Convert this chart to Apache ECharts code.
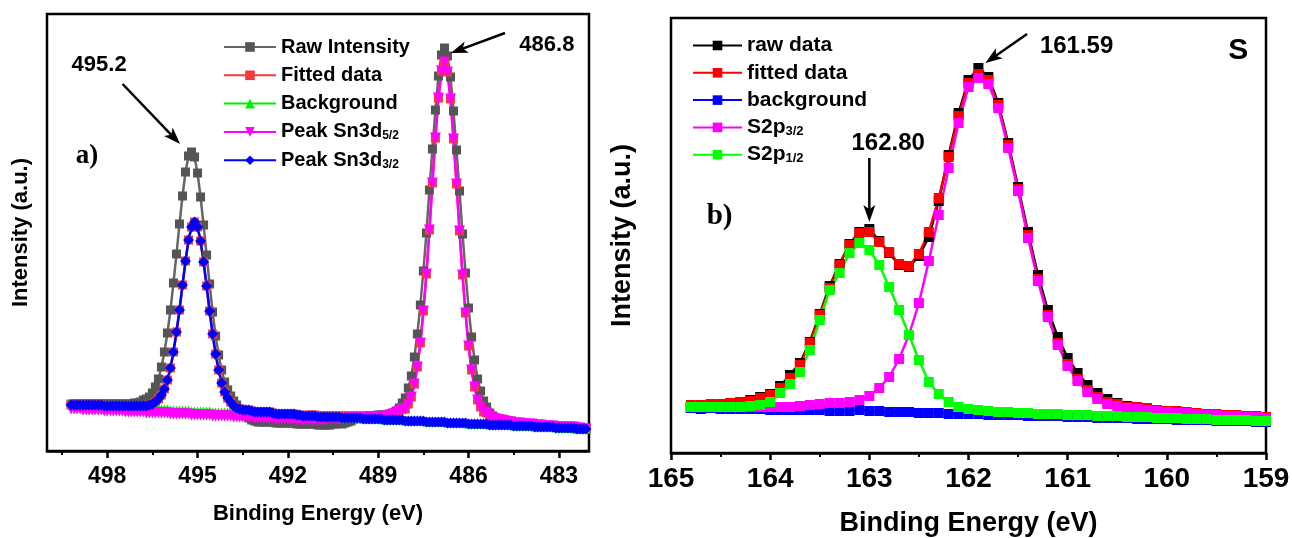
<!DOCTYPE html>
<html>
<head>
<meta charset="utf-8">
<script src="https://cdn.jsdelivr.net/npm/echarts@6/dist/echarts.min.js"></script>
<style>
  html, body { margin: 0; padding: 0; background: #fff; }
  #chart { width: 1292px; height: 538px; }
</style>
</head>
<body>
<div id="chart"></div>
<script>
// ---- panel a) Sn 3d ----
const energyA = [
  499.2,499.1,499.0,498.9,498.8,498.7,498.6,498.5,498.4,498.3,
  498.2,498.1,498.0,497.9,497.8,497.7,497.6,497.5,497.4,497.3,
  497.2,497.1,497.0,496.9,496.8,496.7,496.6,496.5,496.4,496.3,
  496.2,496.1,496.0,495.9,495.8,495.7,495.6,495.5,495.4,495.3,
  495.2,495.1,495.0,494.9,494.8,494.7,494.6,494.5,494.4,494.3,
  494.2,494.1,494.0,493.9,493.8,493.7,493.6,493.5,493.4,493.3,
  493.2,493.1,493.0,492.9,492.8,492.7,492.6,492.5,492.4,492.3,
  492.2,492.1,492.0,491.9,491.8,491.7,491.6,491.5,491.4,491.3,
  491.2,491.1,491.0,490.9,490.8,490.7,490.6,490.5,490.4,490.3,
  490.2,490.1,490.0,489.9,489.8,489.7,489.6,489.5,489.4,489.3,
  489.2,489.1,489.0,488.9,488.8,488.7,488.6,488.5,488.4,488.3,
  488.2,488.1,488.0,487.9,487.8,487.7,487.6,487.5,487.4,487.3,
  487.2,487.1,487.0,486.9,486.8,486.7,486.6,486.5,486.4,486.3,
  486.2,486.1,486.0,485.9,485.8,485.7,485.6,485.5,485.4,485.3,
  485.2,485.1,485.0,484.9,484.8,484.7,484.6,484.5,484.4,484.3,
  484.2,484.1,484.0,483.9,483.8,483.7,483.6,483.5,483.4,483.3,
  483.2,483.1,483.0,482.9,482.8,482.7,482.6,482.5,482.4,482.3,
  482.2,482.1
];
const rawA = [
  47,47,47,47,47,47,47,47,47,47,
  47,47,47,47,47,47,47,47,47,47,
  47,48,48,49,51,52,54,58,64,72,
  84,99,118,141,168,197,227,255,279,295,
  299,294,278,254,226,196,167,139,115,96,
  81,69,61,55,50,46,42,38,35,33,
  31,30,29,29,29,29,29,29,28,28,
  28,28,28,28,28,27,27,27,27,27,
  27,27,26,26,26,26,26,27,27,28,
  27,28,29,30,32,33,34,34,34,35,
  35,35,36,36,36,36,37,38,40,43,
  48,53,63,75,94,117,146,180,218,261,
  302,341,375,396,403,395,374,340,301,260,
  217,178,143,114,91,72,60,50,44,38,
  35,33,32,31,31,30,30,28,28,28,
  27,27,27,27,26,25,25,25,25,25,
  25,24,24,24,24,23,23,23,22,22,
  22,22
];
const fitA = [
  46,46,46,46,46,46,46,46,46,46,
  46,45,45,45,45,45,45,45,45,45,
  45,45,45,45,45,45,46,47,49,52,
  56,62,71,83,99,119,141,166,190,211,
  224,229,224,210,189,165,140,117,97,81,
  68,59,53,49,45,43,42,41,41,41,
  40,39,39,39,39,39,39,38,37,37,
  37,37,37,37,37,36,36,35,35,36,
  36,36,35,35,35,35,35,35,35,35,
  35,35,35,35,35,35,35,35,35,35,
  35,35,35,35,35,36,36,37,38,40,
  42,42,47,54,67,84,108,140,177,221,
  268,313,353,380,389,379,352,312,267,220,
  176,138,105,81,64,51,44,39,38,35,
  33,32,31,31,30,29,29,28,28,28,
  27,27,27,27,26,26,26,25,25,25,
  25,24,24,24,24,24,24,24,23,23,
  22,22
];
const bgA = [
  46,46,46,46,45,45,45,45,45,45,
  45,44,44,44,44,44,44,44,43,43,
  43,43,43,43,43,42,42,42,42,42,
  42,42,42,41,41,41,41,41,41,41,
  40,40,40,40,40,40,40,39,39,39,
  39,39,39,39,38,38,38,38,38,38,
  38,37,37,37,37,37,37,37,36,36,
  36,36,36,36,36,35,35,35,35,35,
  35,35,34,34,34,34,34,34,34,34,
  33,33,33,33,33,33,33,32,32,32,
  32,32,32,32,31,31,31,31,31,31,
  31,30,30,30,30,30,30,30,29,29,
  29,29,29,29,29,28,28,28,28,28,
  28,28,27,27,27,27,27,27,27,26,
  26,26,26,26,26,26,26,25,25,25,
  25,25,25,25,24,24,24,24,24,24,
  24,23,23,23,23,23,23,23,22,22,
  22,22
];
const sn52A = [
  42,42,42,42,41,41,41,41,41,41,
  41,40,40,40,40,40,40,40,39,39,
  39,39,39,39,39,38,38,38,38,38,
  38,38,38,37,37,37,37,37,37,37,
  36,36,36,36,36,36,36,35,35,35,
  35,35,35,35,34,34,34,34,34,34,
  34,33,33,33,33,33,33,33,32,32,
  32,32,32,32,32,31,31,31,31,31,
  31,31,31,31,31,32,32,32,32,32,
  32,32,33,33,33,33,33,33,33,34,
  34,34,34,34,34,35,36,37,38,40,
  42,42,47,54,67,84,108,140,177,221,
  268,313,353,380,389,379,352,312,267,220,
  176,138,105,81,64,51,44,39,38,35,
  33,32,31,31,30,29,29,28,28,28,
  27,27,27,27,26,26,26,25,25,25,
  25,24,24,24,24,24,24,24,23,23,
  22,22
];
const sn32A = [
  46,46,46,46,46,46,46,46,46,46,
  46,45,45,45,45,45,45,45,45,45,
  45,45,45,45,45,45,46,47,49,52,
  56,62,71,83,99,119,141,166,190,211,
  224,229,224,210,189,165,140,117,97,81,
  68,59,53,49,45,43,42,41,41,41,
  40,39,39,39,39,39,39,38,37,37,
  37,37,37,37,37,36,36,35,35,35,
  35,35,34,34,34,34,34,34,34,34,
  33,33,33,33,33,33,33,32,32,32,
  32,32,32,32,31,31,31,31,31,31,
  31,30,30,30,30,30,30,30,29,29,
  29,29,29,29,29,28,28,28,28,28,
  28,28,27,27,27,27,27,27,27,26,
  26,26,26,26,26,26,26,25,25,25,
  25,25,25,25,24,24,24,24,24,24,
  24,23,23,23,23,23,23,23,22,22,
  22,22
];
const ticksA = [498, 495, 492, 489, 486, 483];
const minorTicksA = [499.5, 496.5, 493.5, 490.5, 487.5, 484.5];

// ---- panel b) S 2p ----
const energyB = [
  164.8,164.7,164.6,164.5,164.4,164.3,164.2,164.1,164.0,163.9,
  163.8,163.7,163.6,163.5,163.4,163.3,163.2,163.1,163.0,162.9,
  162.8,162.7,162.6,162.5,162.4,162.3,162.2,162.1,162.0,161.9,
  161.8,161.7,161.6,161.5,161.4,161.3,161.2,161.1,161.0,160.9,
  160.8,160.7,160.6,160.5,160.4,160.3,160.2,160.1,160.0,159.9,
  159.8,159.7,159.6,159.5,159.4,159.3,159.2,159.1,159.0
];
const rawB = [
  46,44,47,48,50,51,53,56,59,67,
  78,90,111,139,167,189,209,221,224,212,
  200,188,186,197,216,252,298,340,373,385,
  376,350,310,266,221,178,143,116,95,80,
  68,60,54,50,47,45,44,42,41,40,
  39,38,37,36,35,35,34,33,33
];
const fitB = [
  48,48,49,49,50,51,52,55,58,65,
  75,88,110,138,165,188,208,220,221,211,
  201,189,187,199,221,255,296,337,370,379,
  373,348,308,264,218,174,138,110,89,74,
  63,56,51,49,46,46,45,43,42,42,
  41,40,39,39,38,38,37,37,36
];
const bgB = [
  45,45,45,44,44,44,44,44,43,43,
  43,43,43,43,42,42,42,43,42,42,
  41,41,41,40,40,40,39,39,39,39,
  38,38,38,38,37,37,37,37,36,36,
  36,35,35,35,35,34,34,34,34,33,
  33,33,33,32,32,32,32,31,31
];
const s32B = [
  46,46,46,46,46,46,46,46,46,46,
  46,47,48,49,50,50,51,53,57,65,
  76,94,118,150,192,238,285,330,366,375,
  369,345,305,262,215,172,136,108,87,72,
  61,54,49,47,45,44,43,42,41,40,
  40,39,38,38,37,37,36,36,35
];
const s12B = [
  46,46,46,46,46,46,47,48,51,60,
  69,81,103,133,163,180,200,210,203,188,
  166,143,118,93,71,59,51,46,44,43,
  42,41,41,40,40,39,39,39,38,38,
  38,37,37,37,36,36,36,35,35,35,
  34,34,34,33,33,33,33,32,32
];

// annotations, in data units of each panel
const notesA = [['495.2', 498.27, 386], ['486.8', 483.4, 406]];
const arrowsA = [[497.49, 367, 495.58, 307], [484.79, 418, 486.59, 398]];
const notesB = [['161.59', 160.91, 407], ['162.80', 162.81, 310]];
const arrowsB = [[161.41, 419, 161.83, 390], [163.0, 295, 163.0, 231]];

const SANS = "'Liberation Sans', Arial, Helvetica, sans-serif";
const SERIF = "'Liberation Serif', 'Times New Roman', serif";

function pairs(xs, ys) {
  return xs.map(function (x, i) { return [x, ys[i]]; });
}

function line(name, xs, ys, color, symbol, size, xi, yi, extra) {
  let s = {
    name: name,
    type: 'line',
    xAxisIndex: xi,
    yAxisIndex: yi,
    data: pairs(xs, ys),
    symbol: symbol,
    symbolSize: size,
    showSymbol: true,
    showAllSymbol: true,
    lineStyle: { color: color, width: 2.5 },
    itemStyle: { color: color },
    emphasis: { disabled: true },
    animation: false
  };
  return Object.assign(s, extra || {});
}

// subscripts like 5/2 in the legend
function legendText(name) {
  let m = name.match(/^(.*?)(\d\/\d)$/);
  return m ? '{a|' + m[1] + '}{s|' + m[2] + '}' : '{a|' + name + '}';
}

function legendRich(size) {
  return {
    a: { fontSize: size, fontWeight: 'bold', fontFamily: SANS, color: '#000', lineHeight: size },
    s: { fontSize: Math.round(size * 0.62), fontWeight: 'bold', fontFamily: SANS, color: '#000',
         lineHeight: Math.round(size * 0.5), verticalAlign: 'bottom' }
  };
}

let myChart = echarts.init(document.getElementById('chart'), null, { renderer: 'canvas' });

let option = {
  backgroundColor: '#fff',
  animation: false,
  grid: [
    { left: 47, top: 14, width: 542, height: 437, show: true, borderColor: '#000', borderWidth: 2.5,
      backgroundColor: 'transparent', outerBoundsMode: 'none' },
    { left: 671, top: 18, width: 595, height: 435, show: true, borderColor: '#000', borderWidth: 2.5,
      backgroundColor: 'transparent', outerBoundsMode: 'none' }
  ],
  xAxis: [
    {
      gridIndex: 0, type: 'value', min: 482, max: 500, inverse: true, position: 'bottom',
      name: 'Binding Energy (eV)', nameLocation: 'middle', nameGap: 52,
      nameTextStyle: { fontSize: 22, fontWeight: 'bold', fontFamily: SANS, color: '#000' },
      axisLine: { show: true, lineStyle: { color: '#000', width: 2.5 } },
      axisTick: { show: true, length: 7, customValues: ticksA, lineStyle: { color: '#000', width: 2.5 } },
      axisLabel: { customValues: ticksA, fontSize: 23, fontWeight: 'bold', fontFamily: SANS, color: '#000', margin: 14 },
      splitLine: { show: false }
    },
    {
      gridIndex: 0, type: 'value', min: 482, max: 500, inverse: true, position: 'bottom',
      axisLine: { show: false },
      axisTick: { show: true, length: 4, customValues: minorTicksA, lineStyle: { color: '#000', width: 2 } },
      axisLabel: { show: false },
      splitLine: { show: false }
    },
    {
      gridIndex: 1, type: 'value', min: 159, max: 165, interval: 1, inverse: true, position: 'bottom',
      name: 'Binding Energy (eV)', nameLocation: 'middle', nameGap: 57,
      nameTextStyle: { fontSize: 27, fontWeight: 'bold', fontFamily: SANS, color: '#000' },
      axisLine: { show: true, lineStyle: { color: '#000', width: 2.5 } },
      axisTick: { show: true, length: 7, lineStyle: { color: '#000', width: 2.5 } },
      minorTick: { show: true, splitNumber: 2, length: 4, lineStyle: { color: '#000', width: 2 } },
      axisLabel: { fontSize: 28, fontWeight: 'bold', fontFamily: SANS, color: '#000', margin: 12 },
      splitLine: { show: false }
    }
  ],
  yAxis: [
    {
      gridIndex: 0, type: 'value', min: 0, max: 437,
      name: 'Intensity (a.u.)', nameLocation: 'middle', nameGap: 15,
      nameTextStyle: { fontSize: 22, fontWeight: 'bold', fontFamily: SANS, color: '#000' },
      axisLine: { show: false }, axisTick: { show: false }, axisLabel: { show: false },
      splitLine: { show: false }
    },
    {
      gridIndex: 1, type: 'value', min: 0, max: 435,
      name: 'Intensity (a.u.)', nameLocation: 'middle', nameGap: 35,
      nameTextStyle: { fontSize: 27, fontWeight: 'bold', fontFamily: SANS, color: '#000' },
      axisLine: { show: false }, axisTick: { show: false }, axisLabel: { show: false },
      splitLine: { show: false }
    }
  ],
  legend: [
    {
      data: ['Raw Intensity', 'Fitted data', 'Background', 'Peak Sn3d5/2', 'Peak Sn3d3/2'],
      orient: 'vertical', left: 218, top: 32, itemWidth: 52, itemHeight: 12, itemGap: 8.3,
      formatter: legendText, selectedMode: false,
      textStyle: { rich: legendRich(20) }
    },
    {
      data: ['raw data', 'fitted data', 'background', 'S2p3/2', 'S2p1/2'],
      orient: 'vertical', left: 687, top: 30, itemWidth: 49, itemHeight: 12, itemGap: 6.3,
      formatter: legendText, selectedMode: false,
      textStyle: { rich: legendRich(21) }
    }
  ],
  series: [
    line('Raw Intensity', energyA, rawA, '#555555', 'rect', 9, 0, 0, { lineStyle: { color: '#666666', width: 2.5 } }),
    line('Fitted data', energyA, fitA, '#f23c3c', 'rect', 9, 0, 0),
    line('Background', energyA, bgA, '#00f000', 'triangle', 9, 0, 0),
    line('Peak Sn3d5/2', energyA, sn52A, '#ff00ff', 'triangle', 11, 0, 0, { symbolRotate: 180 }),
    line('Peak Sn3d3/2', energyA, sn32A, '#0000ff', 'diamond', 11, 0, 0),
    line('raw data', energyB, rawB, '#000000', 'rect', 10, 2, 1),
    line('fitted data', energyB, fitB, '#ff0000', 'rect', 10, 2, 1),
    line('background', energyB, bgB, '#0000ff', 'rect', 10, 2, 1),
    line('S2p3/2', energyB, s32B, '#ff00ff', 'rect', 10, 2, 1),
    line('S2p1/2', energyB, s12B, '#00ff00', 'rect', 10, 2, 1)
  ]
};
myChart.setOption(option);

// text and arrows placed through the axes of each panel
function toPx(panel, x, y) {
  return panel === 0
    ? myChart.convertToPixel({ xAxisIndex: 0, yAxisIndex: 0 }, [x, y])
    : myChart.convertToPixel({ xAxisIndex: 2, yAxisIndex: 1 }, [x, y]);
}

function label(panel, text, x, y, font) {
  let p = toPx(panel, x, y);
  return { type: 'text', x: p[0], y: p[1], z: 100,
    style: { text: text, font: font, fill: '#000', align: 'center', verticalAlign: 'middle' } };
}

function arrow(panel, a) {
  let p0 = toPx(panel, a[0], a[1]);
  let p1 = toPx(panel, a[2], a[3]);
  let dx = p1[0] - p0[0], dy = p1[1] - p0[1];
  let len = Math.sqrt(dx * dx + dy * dy);
  let ux = dx / len, uy = dy / len;
  let L = 17, W = 6;
  let bx = p1[0] - ux * L, by = p1[1] - uy * L;
  let nx = p1[0] - ux * L * 0.75, ny = p1[1] - uy * L * 0.75;
  return [
    { type: 'line', z: 100, shape: { x1: p0[0], y1: p0[1], x2: nx, y2: ny },
      style: { stroke: '#000', lineWidth: 2.5 } },
    { type: 'polygon', z: 100,
      shape: { points: [[p1[0], p1[1]], [bx - uy * W, by + ux * W], [nx, ny], [bx + uy * W, by - ux * W]] },
      style: { fill: '#000' } }
  ];
}

let graphics = [];
notesA.forEach(function (n) { graphics.push(label(0, n[0], n[1], n[2], 'bold 22px ' + SANS)); });
notesB.forEach(function (n) { graphics.push(label(1, n[0], n[1], n[2], 'bold 24px ' + SANS)); });
arrowsA.forEach(function (a) { graphics = graphics.concat(arrow(0, a)); });
arrowsB.forEach(function (a) { graphics = graphics.concat(arrow(1, a)); });
graphics.push(label(0, 'a)', 498.67, 295, 'bold 27px ' + SERIF));
graphics.push(label(1, 'b)', 164.51, 236, 'bold 29px ' + SERIF));
graphics.push(label(1, 'S', 159.28, 402, 'bold 30px ' + SANS));

myChart.setOption({ graphic: graphics });
window.onresize = myChart.resize;
</script>
</body>
</html>
